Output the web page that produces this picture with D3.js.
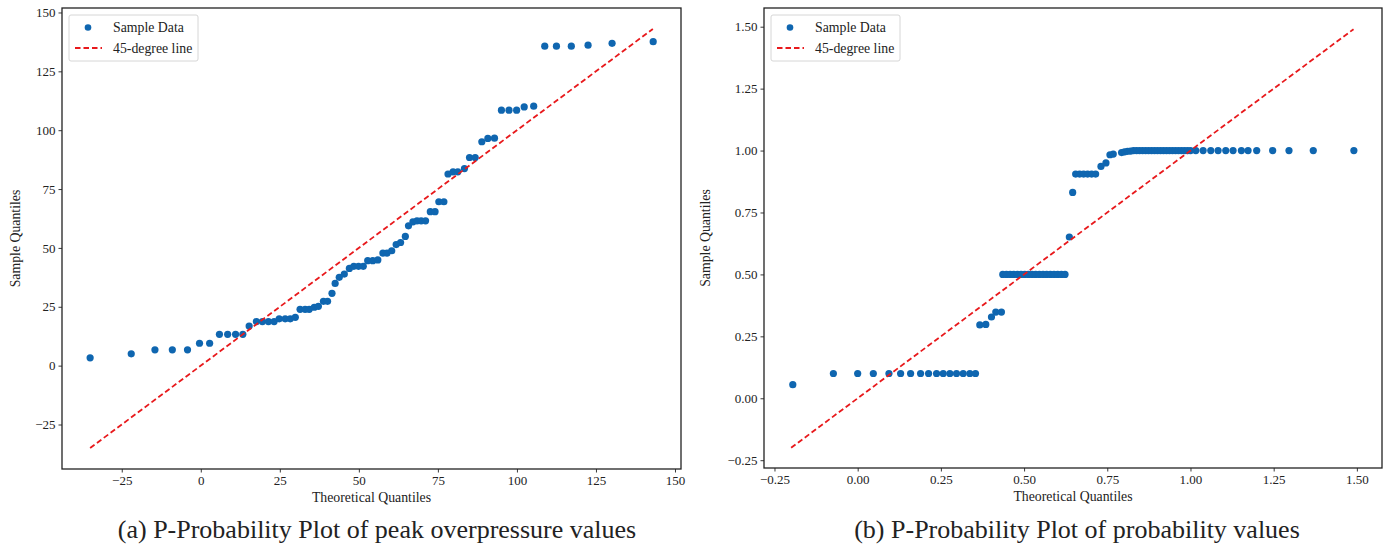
<!DOCTYPE html>
<html>
<head>
	<meta charset="utf-8">
	<title> qq plots </title>
	<script src="https://d3js.org/d3.v7.min.js"></script>
	<style>
		body { margin: 0; background: white; }
		text { font-family: "Liberation Serif", "Times New Roman", serif; fill: #222; }
	</style>
</head>
<body>
	<svg id="vis"></svg>
<script type="text/javascript">

	// (a) peak overpressure - theoretical vs sample quantiles
	const peakTheo = [-35, -22, -14.5, -9, -4.2, -0.4, 2.8, 5.9, 8.5, 11, 13.3, 15.3, 17.6, 19.5, 21.4, 23.2,
		24.8, 26.7, 28.3, 29.9, 31.4, 33, 34.3, 35.9, 37.2, 38.8, 40.1, 41.5, 42.5, 43.8, 45.4, 47,
		48.4, 49.9, 51.4, 52.8, 54.4, 56, 57.6, 58.9, 60.4, 61.8, 63.2, 64.7, 65.7, 67.1, 68.4, 69.7,
		71.1, 72.6, 74.1, 75.3, 76.9, 78.2, 79.8, 81.3, 83.4, 85, 86.8, 88.9, 90.8, 92.9, 95.1, 97.5,
		99.9, 102.3, 105.3, 108.8, 112.5, 117.2, 122.5, 130.1, 143.1];
	const peakSample = [3.3, 5, 6.7, 6.7, 6.7, 9.5, 9.5, 13.3, 13.3, 13.3, 13.3, 16.8, 18.7, 18.7, 18.7, 18.7,
		19.9, 19.9, 19.9, 20.5, 23.9, 23.9, 23.9, 24.8, 25.2, 27.3, 27.3, 30.7, 34.9, 37.5, 38.9, 41.3,
		42.2, 42.2, 42.2, 44.6, 44.6, 44.9, 47.8, 47.8, 48.8, 51.4, 52.3, 54.9, 59.4, 61.1, 61.5, 61.5,
		61.5, 65.4, 65.4, 69.6, 69.6, 81.4, 82.3, 82.3, 83.7, 88.4, 88.4, 95.1, 96.5, 96.6, 108.5, 108.5,
		108.5, 109.9, 110.2, 135.7, 135.7, 135.7, 136.1, 136.9, 137.6];
	const peakLine = [-35, 143];
	const peakTicks = [-25, 0, 25, 50, 75, 100, 125, 150];

	// (b) probability values
	const probTheo = [-0.195, -0.073, 0.0, 0.047, 0.094, 0.129, 0.159, 0.189, 0.213, 0.237, 0.257, 0.277, 0.297, 0.317, 0.337, 0.354,
		0.367, 0.385, 0.402, 0.415, 0.432,
		0.436, 0.447, 0.458, 0.469, 0.480, 0.491, 0.502, 0.513, 0.524, 0.535, 0.546, 0.557, 0.568, 0.579, 0.590, 0.601, 0.612, 0.623,
		0.636, 0.646, 0.655, 0.667, 0.679, 0.691, 0.703, 0.715, 0.731, 0.746, 0.758, 0.768,
		0.793, 0.802, 0.811, 0.820, 0.829, 0.838, 0.847, 0.856, 0.865, 0.874, 0.883, 0.892, 0.901, 0.910, 0.919, 0.928, 0.937, 0.946, 0.955, 0.964, 0.973, 0.982, 0.991, 1.0,
		1.016, 1.038, 1.061, 1.083, 1.106, 1.128, 1.153, 1.173, 1.199, 1.247, 1.296, 1.369, 1.491];
	const probSample = [0.055, 0.1, 0.1, 0.1, 0.1, 0.1, 0.1, 0.1, 0.1, 0.1, 0.1, 0.1, 0.1, 0.1, 0.1, 0.1,
		0.296, 0.298, 0.328, 0.348, 0.348,
		0.5, 0.5, 0.5, 0.5, 0.5, 0.5, 0.5, 0.5, 0.5, 0.5, 0.5, 0.5, 0.5, 0.5, 0.5, 0.5, 0.5, 0.5,
		0.651, 0.831, 0.905, 0.905, 0.905, 0.905, 0.905, 0.905, 0.936, 0.95, 0.983, 0.986,
		0.992, 0.995, 0.997, 0.998, 1, 1, 1, 1, 1, 1, 1, 1, 1, 1, 1, 1, 1, 1, 1, 1, 1, 1, 1, 1,
		1, 1, 1, 1, 1, 1, 1, 1, 1, 1, 1, 1, 1];
	const probLine = [-0.2, 1.49];
	const probXTicks = [-0.25, 0, 0.25, 0.5, 0.75, 1.0, 1.25, 1.5];
	const probYTicks = [-0.25, 0, 0.25, 0.5, 0.75, 1.0, 1.25, 1.5];

	const legendLabels = ["Sample Data", "45-degree line"];
	const captions = ["(a) P-Probability Plot of peak overpressure values", "(b) P-Probability Plot of probability values"];

	const w = 1391;
	const h = 556;
	const dotColor = "#0f66b0";
	const lineColor = "#e8191c";

	const svg = d3.select("#vis").attr("width", w).attr("height", h);

	function plot(opts) {
		const x_scale = d3.scaleLinear().domain(opts.xDomain).range([opts.left, opts.right]);
		const y_scale = d3.scaleLinear().domain(opts.yDomain).range([opts.bottom, opts.top]);

		const g = svg.append("g");

		// axes
		const xaxis = d3.axisBottom(x_scale).tickValues(opts.xTicks).tickFormat(opts.fmt).tickSize(3.5).tickPadding(3);
		const gx = g.append("g").attr("transform", "translate(0," + opts.bottom + ")").call(xaxis);
		const yaxis = d3.axisLeft(y_scale).tickValues(opts.yTicks).tickFormat(opts.fmt).tickSize(3.5).tickPadding(3);
		const gy = g.append("g").attr("transform", "translate(" + opts.left + ",0)").call(yaxis);
		[gx, gy].forEach(a => {
			a.select(".domain").remove();
			a.selectAll("line").attr("stroke", "#222").attr("stroke-width", 0.9);
			a.selectAll("text").style("font-size", "13px").style("font-family", "Liberation Serif").attr("fill", "#222");
		});

		// frame
		g.append("rect")
			.attr("x", opts.left).attr("y", opts.top)
			.attr("width", opts.right - opts.left).attr("height", opts.bottom - opts.top)
			.attr("fill", "none").attr("stroke", "#222").attr("stroke-width", 1.3);

		// points
		g.selectAll("circle.pt").data(opts.xs).join("circle")
			.attr("class", "pt")
			.attr("cx", d => x_scale(d))
			.attr("cy", (d, i) => y_scale(opts.ys[i]))
			.attr("r", 3.6)
			.attr("fill", dotColor);

		// 45 degree line
		g.append("line")
			.attr("x1", x_scale(opts.line[0])).attr("y1", y_scale(opts.line[0]))
			.attr("x2", x_scale(opts.line[1])).attr("y2", y_scale(opts.line[1]))
			.attr("stroke", lineColor).attr("stroke-width", 1.8).attr("stroke-dasharray", "5.5,3");

		// axis labels
		g.append("text").attr("x", (opts.left + opts.right) / 2).attr("y", opts.bottom + 33)
			.attr("text-anchor", "middle").style("font-size", "13.8px").text("Theoretical Quantiles");
		g.append("text").attr("transform", "translate(" + opts.ylabX + "," + ((opts.top + opts.bottom) / 2) + ") rotate(-90)")
			.attr("text-anchor", "middle").style("font-size", "13.8px").text("Sample Quantiles");

		// legend
		const lx = opts.left + 7, ly = opts.top + 7;
		g.append("rect").attr("x", lx).attr("y", ly).attr("width", 129).attr("height", 46).attr("rx", 2)
			.attr("fill", "white").attr("stroke", "#d6d6d6").attr("stroke-width", 1);
		g.append("circle").attr("cx", lx + 19).attr("cy", ly + 12.5).attr("r", 3.3).attr("fill", dotColor);
		g.append("line").attr("x1", lx + 6).attr("x2", lx + 33).attr("y1", ly + 33).attr("y2", ly + 33)
			.attr("stroke", lineColor).attr("stroke-width", 1.8).attr("stroke-dasharray", "5.5,3");
		g.selectAll("text.leg").data(legendLabels).join("text").attr("class", "leg")
			.attr("x", lx + 44).attr("y", (d, i) => ly + 17 + i * 20.5)
			.style("font-size", "13.8px").text(d => d);

		// caption
		g.append("text").attr("x", opts.capX).attr("y", 538).attr("text-anchor", "middle")
			.style("font-size", "26px").attr("fill", "#111").text(opts.caption);
	}

	plot({
		left: 62, right: 681, top: 8, bottom: 469,
		xDomain: [-43.9, 151.9], yDomain: [-43.9, 151.9],
		xTicks: peakTicks, yTicks: peakTicks, fmt: d3.format("d"),
		xs: peakTheo, ys: peakSample, line: peakLine,
		ylabX: 20, capX: 377, caption: captions[0]
	});

	plot({
		left: 764, right: 1382, top: 8, bottom: 468,
		xDomain: [-0.2815, 1.5755], yDomain: [-0.2815, 1.5755],
		xTicks: probXTicks, yTicks: probYTicks, fmt: d3.format(".2f"),
		xs: probTheo, ys: probSample, line: probLine,
		ylabX: 710, capX: 1077, caption: captions[1]
	});

</script>
</body>
</html>
